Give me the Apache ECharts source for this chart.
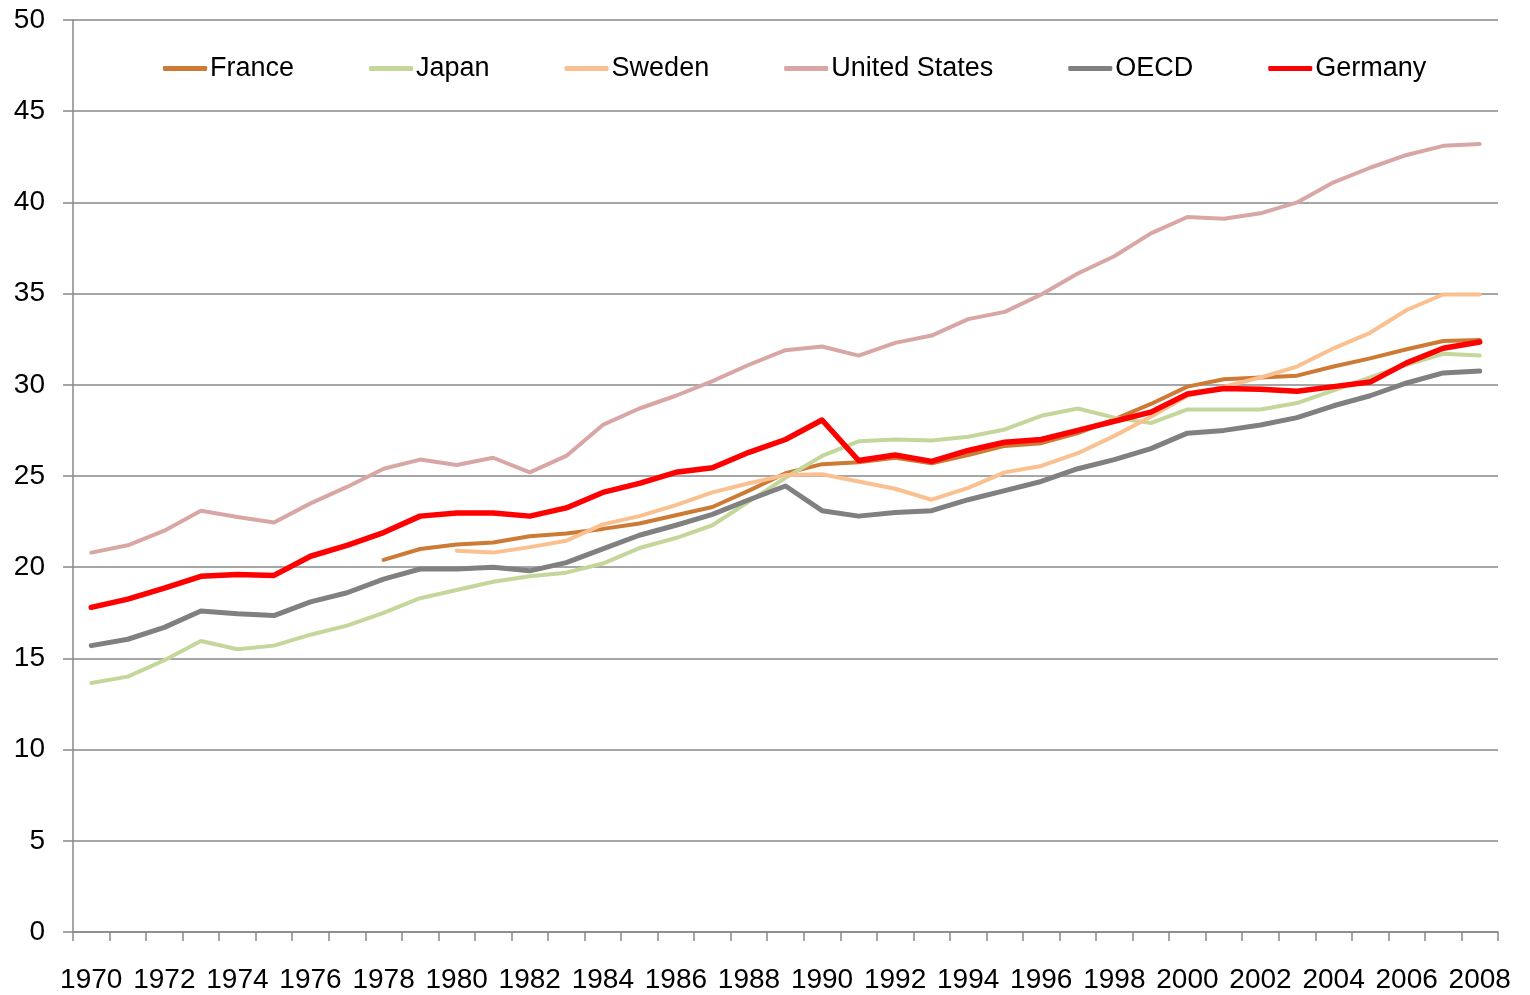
<!DOCTYPE html>
<html>
<head>
<meta charset="utf-8">
<script src="https://cdn.jsdelivr.net/npm/echarts@6/dist/echarts.min.js"></script>
<style>
  html, body { margin: 0; padding: 0; background: #fff; }
  #main { width: 1530px; height: 995px; }
</style>
</head>
<body>
<div id="main"></div>
<script>
var years = [];
for (var y = 1970; y <= 2008; y++) { years.push(String(y)); }

// values, 1970..2008 (null = no data)
var france = [null, null, null, null, null, null, null, null,
    20.4, 21.0, 21.25, 21.35, 21.7, 21.85, 22.1, 22.4, 22.85, 23.3, 24.2, 25.15,
    25.65, 25.75, 26.0, 25.7, 26.15, 26.65, 26.8, 27.35, 28.1, 28.95,
    29.9, 30.3, 30.4, 30.5, 31.0, 31.45, 31.95, 32.4, 32.45];
var japan = [13.65, 14.0, 14.9, 15.95, 15.5, 15.7, 16.3, 16.8, 17.5, 18.3,
    18.75, 19.2, 19.5, 19.7, 20.2, 21.05, 21.6, 22.3, 23.6, 24.9,
    26.1, 26.9, 27.0, 26.95, 27.15, 27.55, 28.3, 28.7, 28.2, 27.9,
    28.65, 28.65, 28.65, 29.0, 29.7, 30.4, 31.1, 31.7, 31.6];
var sweden = [null, null, null, null, null, null, null, null, null, null,
    20.9, 20.8, 21.1, 21.45, 22.35, 22.8, 23.4, 24.1, 24.6, 25.05,
    25.1, 24.7, 24.3, 23.7, 24.35, 25.2, 25.55, 26.25, 27.2, 28.25,
    29.4, 29.9, 30.4, 31.0, 32.0, 32.85, 34.1, 34.95, 34.95];
var usa = [20.8, 21.2, 22.0, 23.1, 22.75, 22.45, 23.5, 24.4, 25.4, 25.9,
    25.6, 26.0, 25.2, 26.1, 27.8, 28.7, 29.4, 30.2, 31.1, 31.9,
    32.1, 31.6, 32.3, 32.7, 33.6, 34.0, 34.95, 36.1, 37.05, 38.3,
    39.2, 39.1, 39.4, 40.0, 41.1, 41.9, 42.6, 43.1, 43.2];
var oecd = [15.7, 16.05, 16.7, 17.6, 17.45, 17.35, 18.1, 18.6, 19.35, 19.9,
    19.9, 20.0, 19.8, 20.25, 21.0, 21.75, 22.3, 22.9, 23.7, 24.45,
    23.1, 22.8, 23.0, 23.1, 23.7, 24.2, 24.7, 25.4, 25.9, 26.5,
    27.35, 27.5, 27.8, 28.2, 28.85, 29.4, 30.1, 30.65, 30.75];
var germany = [17.8, 18.25, 18.85, 19.5, 19.6, 19.55, 20.6, 21.2, 21.9, 22.8,
    22.97, 22.97, 22.8, 23.25, 24.1, 24.6, 25.2, 25.45, 26.3, 27.0,
    28.07, 25.85, 26.15, 25.8, 26.4, 26.85, 27.0, 27.5, 28.0, 28.5,
    29.5, 29.8, 29.75, 29.65, 29.9, 30.15, 31.2, 32.0, 32.35];

var names = ['France', 'Japan', 'Sweden', 'United States', 'OECD', 'Germany'];
var colors = ['#CD7A35', '#C4D79B', '#FAC090', '#D8A7A5', '#808080', '#FF0000'];
var widths = [4, 4, 4, 4, 5, 5.5];
var values = [france, japan, sweden, usa, oecd, germany];

var font = '"Liberation Sans", Arial, sans-serif';
var gridColor = '#888888';

var series = [];
for (var i = 0; i < names.length; i++) {
    series.push({
        name: names[i],
        type: 'line',
        data: values[i],
        symbol: 'none',
        showSymbol: false,
        connectNulls: false,
        color: colors[i],
        lineStyle: { color: colors[i], width: widths[i], cap: 'round', join: 'round' },
        animation: false
    });
}

var option = {
    backgroundColor: '#fff',
    animation: false,
    textStyle: { fontFamily: font },
    grid: { left: 73, right: 32, top: 20, bottom: 63, containLabel: false },
    legend: {
        data: names,
        icon: 'roundRect',
        left: 158,
        top: 50,
        itemWidth: 44,
        itemHeight: 5,
        itemGap: 75,
        textStyle: { fontFamily: font, fontSize: 27, color: '#000', padding: [0, 0, 0, -2] }
    },
    xAxis: {
        type: 'category',
        data: years,
        boundaryGap: true,
        axisLine: { lineStyle: { color: gridColor, width: 1.5 } },
        axisTick: { show: true, interval: 0, length: 9, lineStyle: { color: gridColor, width: 1.5 } },
        axisLabel: { interval: 1, margin: 34, fontFamily: font, fontSize: 28, color: '#000' },
        splitLine: { show: false }
    },
    yAxis: {
        type: 'value',
        min: 0,
        max: 50,
        interval: 5,
        axisLine: { show: true, lineStyle: { color: gridColor, width: 1.5 } },
        axisTick: { show: true, length: 10, lineStyle: { color: gridColor, width: 1.5 } },
        axisLabel: { margin: 28, fontFamily: font, fontSize: 28, color: '#000' },
        splitLine: { show: true, lineStyle: { color: gridColor, width: 1.5 } }
    },
    series: series
};

var myChart = echarts.init(document.getElementById('main'));
myChart.setOption(option);
</script>
</body>
</html>
